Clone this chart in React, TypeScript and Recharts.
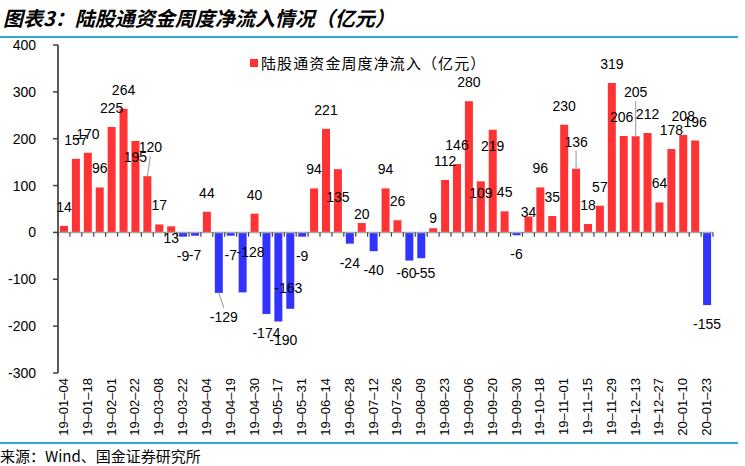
import { Bar, BarChart, Cell, LabelList, ReferenceLine, XAxis, YAxis } from 'recharts';

const categories = [
  '19-01-04', '19-01-11', '19-01-18', '19-01-25', '19-02-01', '19-02-15', '19-02-22', '19-03-01',
  '19-03-08', '19-03-15', '19-03-22', '19-03-29', '19-04-04', '19-04-12', '19-04-19', '19-04-26',
  '19-04-30', '19-05-10', '19-05-17', '19-05-24', '19-05-31', '19-06-06', '19-06-14', '19-06-21',
  '19-06-28', '19-07-05', '19-07-12', '19-07-19', '19-07-26', '19-08-02', '19-08-09', '19-08-16',
  '19-08-23', '19-08-30', '19-09-06', '19-09-12', '19-09-20', '19-09-27', '19-09-30', '19-10-11',
  '19-10-18', '19-10-25', '19-11-01', '19-11-08', '19-11-15', '19-11-22', '19-11-29', '19-12-06',
  '19-12-13', '19-12-20', '19-12-27', '20-01-03', '20-01-10', '20-01-17', '20-01-23',
];

const netInflow = [
  14, 157, 170, 96, 225, 264, 195, 120, 17, 13, -9, -7, 44, -129, -7, -128,
  40, -174, -190, -163, -9, 94, 221, 135, -24, 20, -40, 94, 26, -60, -55, 9,
  112, 146, 280, 109, 219, 45, -6, 34, 96, 35, 230, 136, 18, 57, 319, 206,
  205, 212, 64, 178, 208, 196, -155,
];

const yTicks = [-300, -200, -100, 0, 100, 200, 300, 400];

const SERIES_NAME = '陆股通资金周度净流入（亿元）';
const RED = '#FF3333';
const BLUE = '#3333FF';
const FONT = '"Liberation Sans", Arial, sans-serif';
const CJK = '"Noto Sans CJK SC", sans-serif';

// hand-placed data labels, like the source (pixel nudges, by bar index)
const labelNudges: Record<number, { dx?: number; dy?: number; leader?: boolean }> = {
  6: { dy: 35 },
  7: { dx: 3, dy: -10, leader: true },
  9: { dy: 31 },
  13: { dx: 5, dy: 5, leader: true },
  15: { dx: 8, dy: -59 },
  18: { dx: 5 },
  19: { dx: -2, dy: -40 },
  23: { dy: 47 },
  25: { dy: 10 },
  29: { dx: -3, dy: -7 },
  30: { dx: 4, dy: -4 },
  31: { dy: 9 },
  35: { dy: 31 },
  36: { dy: 35 },
  39: { dy: 15 },
  43: { dy: -8, leader: true },
  47: { dx: -2 },
  48: { dy: -25, leader: true },
};

const data = categories.map((date, i) => ({ date, value: netInflow[i] }));

function DateTick({ x, y, payload, index }: any) {
  if (index % 2 !== 0) return null;
  return (
    <g transform={`translate(${x + 4},${y + 5})`}>
      <text transform="rotate(-90)" textAnchor="end" fontSize={13} fontFamily={FONT} fill="#000">
        {String(payload.value).replace(/-/g, '–')}
      </text>
    </g>
  );
}

function ValueLabel({ x, y, width, height, value, index }: any) {
  const top = Math.min(y, y + height);
  const bottom = Math.max(y, y + height);
  const cx = x + width / 2;
  const n = labelNudges[index] || {};
  const pos = value >= 0;
  const base = pos ? top - 19 : bottom + 19;
  const cy = base + (n.dy || 0);
  const lx = cx + (n.dx || 0);
  const edge = pos ? top : bottom;
  let leader = null;
  if (n.leader) {
    const end = cy > edge ? cy - 9 : cy + 9;
    leader = <line x1={cx} y1={edge} x2={lx} y2={end} stroke="#A6A6A6" strokeWidth={1.2} />;
  }
  return (
    <g>
      {leader}
      <text x={lx} y={cy + 5} textAnchor="middle" fontSize={14} fontFamily={FONT} fill="#000">
        {value}
      </text>
    </g>
  );
}

export default function App() {
  const last = categories[categories.length - 1];
  return (
    <div style={{ position: 'absolute', left: 0, top: 0, width: 745, height: 466, background: '#fff' }}>
      <div
        style={{
          position: 'absolute', left: 3, top: 5, fontFamily: CJK, fontSize: 20,
          fontWeight: 700, fontStyle: 'italic', color: '#000', whiteSpace: 'nowrap', lineHeight: '26px',
        }}
      >
        图表3：陆股通资金周度净流入情况（亿元）
      </div>
      <div style={{ position: 'absolute', left: 0, top: 36, width: 738, height: 1.5, background: '#29ABE2' }} />

      <div style={{ position: 'absolute', left: 0, top: 0 }}>
        <BarChart
          width={745}
          height={440}
          data={data}
          margin={{ top: 45, right: 32, bottom: 5, left: 0 }}
          barSize={8}
        >
          <YAxis
            domain={[-300, 400]}
            ticks={yTicks}
            width={58}
            tickSize={5}
            tickMargin={17}
            axisLine={{ stroke: '#404040', strokeWidth: 1.7 }}
            tickLine={{ stroke: '#404040', strokeWidth: 1.5 }}
            tick={{ fontSize: 14, fill: '#000', fontFamily: FONT }}
            allowDataOverflow
          />
          <XAxis
            dataKey="date"
            interval={0}
            height={62}
            axisLine={false}
            tickLine={false}
            tickSize={0}
            tickMargin={0}
            tick={<DateTick />}
          />
          <ReferenceLine y={0} stroke="#A6A6A6" strokeWidth={1.5} />
          {categories.map((c) => (
            <ReferenceLine
              key={c}
              segment={[{ x: c, y: 0 }, { x: c, y: -9 }]}
              position="start"
              stroke="#404040"
              strokeWidth={1.2}
            />
          ))}
          <ReferenceLine
            segment={[{ x: last, y: 0 }, { x: last, y: -9 }]}
            position="end"
            stroke="#404040"
            strokeWidth={1.2}
          />
          <Bar dataKey="value" isAnimationActive={false}>
            {data.map((d) => (
              <Cell key={d.date} fill={d.value >= 0 ? RED : BLUE} />
            ))}
            <LabelList dataKey="value" content={<ValueLabel />} />
          </Bar>
        </BarChart>
      </div>

      <div
        style={{
          position: 'absolute', left: 250, top: 52, display: 'flex', alignItems: 'center',
          fontFamily: CJK, fontSize: 15, letterSpacing: 1.1, color: '#000', whiteSpace: 'nowrap',
        }}
      >
        <span style={{ display: 'inline-block', width: 8, height: 8, background: RED, marginRight: 3 }} />
        {SERIES_NAME}
      </div>

      <div style={{ position: 'absolute', left: 0, top: 442, width: 738, height: 1.5, background: '#29ABE2' }} />
      <div
        style={{
          position: 'absolute', left: 0, top: 446, fontFamily: CJK, fontSize: 15,
          color: '#000', whiteSpace: 'nowrap', lineHeight: '20px',
        }}
      >
        来源：Wind、国金证券研究所
      </div>
    </div>
  );
}
